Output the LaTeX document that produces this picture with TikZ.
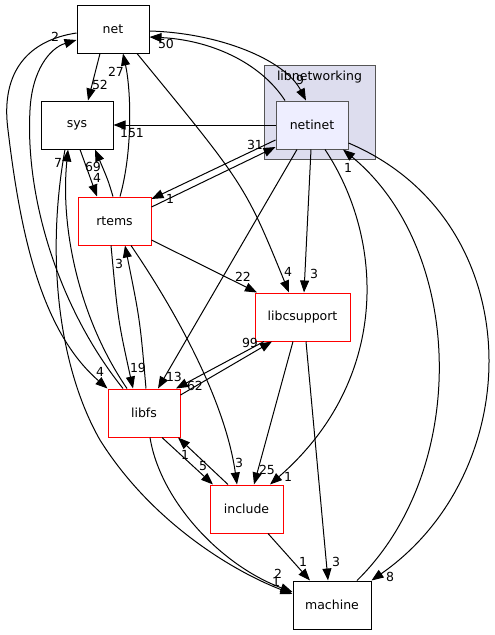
\documentclass[tikz,border=0pt]{standalone}
\usepackage{fontspec}
\setmainfont{DejaVu Sans}
\usetikzlibrary{arrows.meta}
\definecolor{clusterfill}{HTML}{DDDDEE}
\definecolor{clusterdraw}{HTML}{555555}
\definecolor{netinetfill}{HTML}{EEEEFF}
\tikzset{
  dirbox/.style={draw=black, fill=white, minimum width=72pt, minimum height=48pt, inner sep=0pt, font=\fontsize{12.5}{15}\selectfont},
  redbox/.style={dirbox, draw=red},
  dep/.style={-{Triangle[length=12pt,width=9pt]}},
  lbl/.style={inner sep=0pt, font=\fontsize{12.5}{15}\selectfont},
}

\begin{document}
\begin{tikzpicture}[x=1pt, y=-1pt, line width=1pt]
  \useasboundingbox (0,0) rectangle (495,635);
  % cluster and nodes
  \node[draw=clusterdraw, fill=clusterfill, minimum width=111pt, minimum height=94pt, inner sep=0pt] (libnetworking) at (319.5,112) {};
  \node[lbl] (libnetworkinglbl) at (319.5,77) {libnetworking};
  \node[dirbox, draw=clusterdraw, fill=netinetfill] (netinet) at (312,125) {netinet};
  \node[dirbox] (net) at (113,29) {net};
  \node[dirbox] (sys) at (77,125) {sys};
  \node[redbox, minimum width=73pt] (rtems) at (114.5,221) {rtems};
  \node[redbox, minimum width=95pt] (libcsupport) at (302.5,317) {libcsupport};
  \node[redbox] (libfs) at (144,413) {libfs};
  \node[redbox, minimum width=73pt] (include) at (246.5,509) {include};
  \node[dirbox, minimum width=78pt] (machine) at (332,605) {machine};
  % net
  \draw[dep] (net.south -| 100,0) -- (sys.north -| 88,0) node[lbl, at={(100,85)}] {52};
  \draw[dep] (net.south -| 137,0) .. controls (245,185) .. (libcsupport.north -| 289,0) node[lbl, at={(288,272)}] {4};
  \draw[dep] (net.east |- 0,31) .. controls (220,33) and (285,60) .. (netinet.north -| 306,0) node[lbl, at={(300,80)}] {9};
  \draw[dep] (net.west |- 0,33) .. controls (30,40) and (0,70) .. (8,130) .. controls (20,230) and (40,330) .. (libfs.north west) node[lbl, at={(100,372)}] {4};
  % netinet
  \draw[dep] (netinet.north -| 285,0) .. controls (260,62) and (210,40) .. (net.east |- 0,37) node[lbl, at={(166,44)}] {50};
  \draw[dep] (netinet.west) -- (sys.east) node[lbl, at={(132,133)}] {151};
  \draw[dep] (netinet.west |- 0,140) -- (rtems.east |- 0,199) node[lbl, at={(170,199)}] {1};
  \draw[dep] (netinet.south -| 297,0) -- (libfs.north -| 158,0) node[lbl, at={(174,377)}] {13};
  \draw[dep] (netinet.south -| 311,0) -- (libcsupport.north -| 304,0) node[lbl, at={(314,274)}] {3};
  \draw[dep] (netinet.south -| 325,0) .. controls (385,240) and (390,380) .. (include.north -| 270,0) node[lbl, at={(288,477)}] {1};
  \draw[dep] (netinet.east |- 0,143) .. controls (530,220) and (530,470) .. (machine.north east) node[lbl, at={(390,577)}] {8};
  % rtems
  \draw[dep] (rtems.north -| 113,0) .. controls (108,180) .. (sys.south -| 95,0) node[lbl, at={(93,167)}] {69};
  \draw[dep] (rtems.north -| 120,0) .. controls (133,150) and (131,90) .. (net.south -| 123,0) node[lbl, at={(116,72)}] {27};
  \draw[dep] (rtems.east |- 0,207) -- (netinet.west |- 0,147) node[lbl, at={(255,145)}] {31};
  \draw[dep] (rtems.east |- 0,240) -- (libcsupport.north -| 257,0) node[lbl, at={(243,277)}] {22};
  \draw[dep] (rtems.south -| 111,0) .. controls (118,320) .. (libfs.north -| 133,0) node[lbl, at={(138,368)}] {19};
  \draw[dep] (rtems.south -| 131,0) .. controls (175,310) and (225,400) .. (include.north -| 237,0) node[lbl, at={(239,463)}] {3};
  % sys
  \draw[dep] (sys.south -| 80,0) -- (rtems.north -| 97,0) node[lbl, at={(97,178)}] {4};
  \draw[dep] (sys.south -| 65,0) .. controls (45,260) and (60,370) .. (100,440) .. controls (150,520) and (230,570) .. (machine.west |- 0,594) node[lbl, at={(278,574)}] {2};
  % libfs
  \draw[dep] (libfs.north -| 127,0) .. controls (80,320) and (60,230) .. (sys.south -| 68,0) node[lbl, at={(58,163)}] {7};
  \draw[dep] (libfs.north -| 123,0) .. controls (60,310) and (25,200) .. (30,110) .. controls (32,70) and (50,48) .. (net.west |- 0,40) node[lbl, at={(55,37)}] {2};
  \draw[dep] (libfs.north -| 146,0) .. controls (140,320) .. (rtems.south -| 125,0) node[lbl, at={(119,264)}] {3};
  \draw[dep] (libfs.east |- 0,395) -- (libcsupport.south -| 272,0) node[lbl, at={(250,343)}] {99};
  \draw[dep] (libfs.south -| 162,0) -- (include.north -| 213,0) node[lbl, at={(203,466)}] {5};
  \draw[dep] (libfs.south -| 150,0) .. controls (160,500) and (220,565) .. (machine.west |- 0,592) node[lbl, at={(276,582)}] {1};
  % libcsupport
  \draw[dep] (libcsupport.south -| 264,0) -- (libfs.north -| 176,0) node[lbl, at={(195,386)}] {62};
  \draw[dep] (libcsupport.south -| 293,0) -- (include.north -| 254,0) node[lbl, at={(267,470)}] {25};
  \draw[dep] (libcsupport.south -| 306,0) -- (machine.north -| 328,0) node[lbl, at={(336,562)}] {3};
  % include
  \draw[dep] (include.north -| 228,0) -- (libfs.south -| 178,0) node[lbl, at={(185,455)}] {1};
  \draw[dep] (include.south -| 268,0) -- (machine.north -| 310,0) node[lbl, at={(303,562)}] {1};
  % machine
  \draw[dep] (machine.north -| 357,0) .. controls (470,470) and (465,250) .. (netinet.south -| 343,0) node[lbl, at={(348,168)}] {1};
\end{tikzpicture}
\end{document}
